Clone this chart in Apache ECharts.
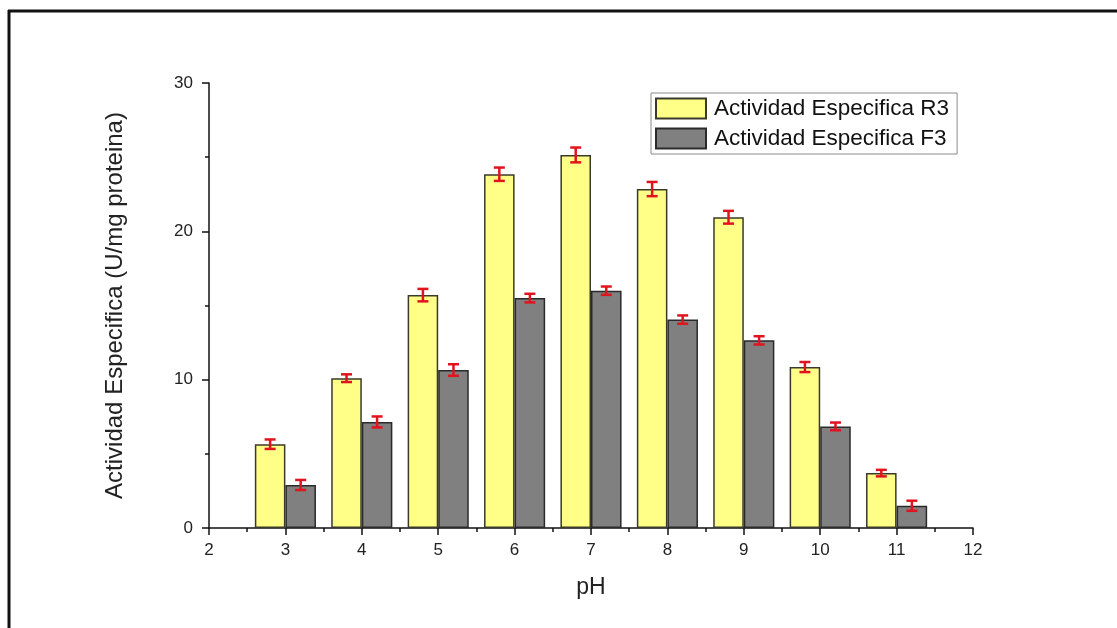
<!DOCTYPE html>
<html>
<head>
<meta charset="utf-8">
<script src="https://cdn.jsdelivr.net/npm/echarts@6/dist/echarts.min.js"></script>
<style>
html,body{margin:0;padding:0;background:#fff;}
#chart{width:1117px;height:628px;}
</style>
</head>
<body>
<div id="chart"></div>
<script>
const phValues = [3, 4, 5, 6, 7, 8, 9, 10, 11];
const r3Values = [5.65, 10.1, 15.7, 23.85, 25.15, 22.85, 20.95, 10.85, 3.7];
const r3Errors = [0.32, 0.26, 0.42, 0.45, 0.5, 0.48, 0.43, 0.34, 0.22];
const f3Values = [2.9, 7.15, 10.65, 15.5, 16.0, 14.05, 12.65, 6.85, 1.5];
const f3Errors = [0.34, 0.37, 0.39, 0.29, 0.28, 0.28, 0.28, 0.26, 0.34];
const seriesNames = ['Actividad Especifica R3', 'Actividad Especifica F3'];
const xTitle = 'pH';
const yTitle = 'Actividad Especifica (U/mg proteina)';

const BAR_HALF = 0.2; // half bar width in axis units (bar width 40% of 1 unit)

function errSeries(values, errors, shift) {
  return {
    type: 'custom',
    z: 5,
    silent: true,
    data: phValues.map((x, i) => [x, values[i], errors[i]]),
    renderItem: function (params, api) {
      const x = api.value(0) + shift;
      const y = api.value(1);
      const e = api.value(2);
      const top = api.coord([x, y + e]);
      const bot = api.coord([x, y - e]);
      const cap = 5.5;
      const style = { stroke: '#e0141e', lineWidth: 2.5 };
      return {
        type: 'group',
        children: [
          { type: 'line', shape: { x1: top[0], y1: top[1], x2: bot[0], y2: bot[1] }, style: style },
          { type: 'line', shape: { x1: top[0] - cap, y1: top[1], x2: top[0] + cap, y2: top[1] }, style: style },
          { type: 'line', shape: { x1: bot[0] - cap, y1: bot[1], x2: bot[0] + cap, y2: bot[1] }, style: style }
        ]
      };
    }
  };
}

const chart = echarts.init(document.getElementById('chart'), null, { renderer: 'canvas' });
const axisFont = { fontFamily: 'Liberation Sans, Arial, sans-serif', color: '#222' };

chart.setOption({
  backgroundColor: '#fff',
  animation: false,
  grid: { left: 209, right: 144, top: 83, bottom: 100 },
  legend: {
    orient: 'vertical',
    left: 651,
    top: 93,
    itemWidth: 50,
    itemHeight: 20,
    itemGap: 7,
    padding: [4, 8, 4, 4],
    borderColor: '#8a8a8a',
    borderWidth: 1,
    textStyle: { fontSize: 22.5, fontFamily: 'Liberation Sans, Arial, sans-serif', color: '#111', padding: [0, 0, 0, 3] },
    data: seriesNames,
    icon: 'rect'
  },
  xAxis: {
    type: 'value',
    min: 2, max: 12, interval: 1,
    name: xTitle,
    nameLocation: 'middle',
    nameGap: 48,
    nameTextStyle: { fontSize: 23, ...axisFont },
    axisLine: { show: true, lineStyle: { color: '#111', width: 1.5 } },
    axisTick: { show: true, length: 7, lineStyle: { color: '#111', width: 1.5 } },
    minorTick: { show: true, splitNumber: 2, length: 4, lineStyle: { color: '#111', width: 1.5 } },
    axisLabel: { fontSize: 17, margin: 14, ...axisFont },
    splitLine: { show: false }
  },
  yAxis: {
    type: 'value',
    min: 0, max: 30, interval: 10,
    name: yTitle,
    nameLocation: 'middle',
    nameGap: 82,
    nameTextStyle: { fontSize: 24, ...axisFont },
    axisLine: { show: true, lineStyle: { color: '#111', width: 1.5 } },
    axisTick: { show: true, length: 7, lineStyle: { color: '#111', width: 1.5 } },
    minorTick: { show: true, splitNumber: 2, length: 4, lineStyle: { color: '#111', width: 1.5 } },
    axisLabel: { fontSize: 17, margin: 16, ...axisFont },
    splitLine: { show: false }
  },
  graphic: [
    { type: 'line', shape: { x1: 8, y1: 11, x2: 1117, y2: 11 }, style: { stroke: '#111', lineWidth: 3 } },
    { type: 'line', shape: { x1: 9, y1: 10, x2: 9, y2: 628 }, style: { stroke: '#111', lineWidth: 3 } }
  ],
  series: [
    {
      name: seriesNames[0],
      type: 'bar',
      barWidth: '40%',
      barGap: '0%',
      data: phValues.map((x, i) => [x, r3Values[i]]),
      itemStyle: { color: '#ffff88', borderColor: '#3a3a2a', borderWidth: 1.5 }
    },
    {
      name: seriesNames[1],
      type: 'bar',
      barWidth: '40%',
      barGap: '0%',
      data: phValues.map((x, i) => [x, f3Values[i]]),
      itemStyle: { color: '#808080', borderColor: '#2a2a2a', borderWidth: 1.5 }
    },
    errSeries(r3Values, r3Errors, -BAR_HALF),
    errSeries(f3Values, f3Errors, BAR_HALF)
  ]
});
</script>
</body>
</html>
